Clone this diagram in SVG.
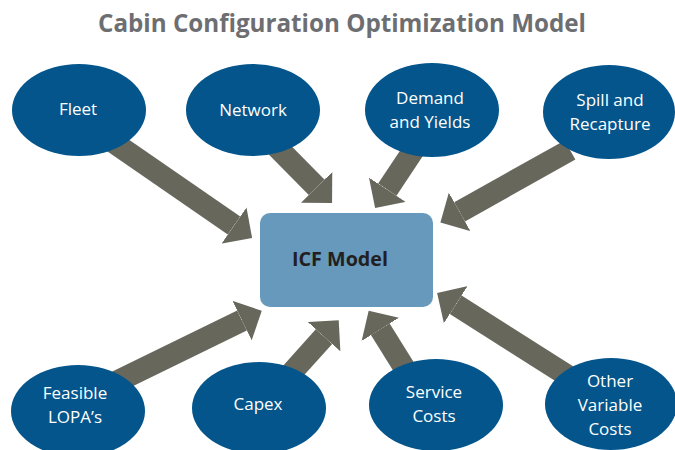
<svg xmlns="http://www.w3.org/2000/svg" width="675" height="450" viewBox="0 0 675 450">
<style>
.title{font-family:"Open Sans","Liberation Sans",Arial,sans-serif;font-weight:bold;font-size:25px;fill:#6d6e71;text-anchor:middle}
.node ellipse{fill:#03558b}
.lbl{font-family:"Open Sans","Liberation Sans",Arial,sans-serif;font-size:17px;fill:#ffffff;text-anchor:middle}
.arrow{stroke:#67675c;stroke-width:22;fill:none;marker-end:url(#head)}
.core{fill:#6699bb}
.corelbl{font-family:"Open Sans","Liberation Sans",Arial,sans-serif;font-weight:bold;font-size:20px;fill:#231f20;text-anchor:middle}
</style>
<defs>
<marker id="head" markerUnits="userSpaceOnUse" markerWidth="24" markerHeight="44" viewBox="0 0 24 44" refX="0" refY="22" orient="auto">
<path d="M0,0 L22,22 L0,44 z" fill="#67675c"/>
</marker>
</defs>
<rect width="675" height="450" fill="#ffffff"/>
<text class="title" x="342" y="32" textLength="488" lengthAdjust="spacingAndGlyphs">Cabin Configuration Optimization Model</text>
<g id="connectors">
<line class="arrow" x1="100" y1="133" x2="234" y2="225.5"/>
<line class="arrow" x1="265" y1="135" x2="316.6" y2="187.3"/>
<line class="arrow" x1="415" y1="148" x2="387.3" y2="189.7"/>
<line class="arrow" x1="570" y1="150" x2="459.6" y2="211.8"/>
<line class="arrow" x1="110" y1="385" x2="242" y2="320.5"/>
<line class="arrow" x1="285" y1="380" x2="324" y2="336.6"/>
<line class="arrow" x1="415" y1="385" x2="380.3" y2="329.3"/>
<line class="arrow" x1="590" y1="390" x2="455.7" y2="304.7"/>
</g>
<g id="icf">
<rect class="core" x="260" y="213" width="173" height="94" rx="10"/>
<text class="corelbl" x="340" y="266" textLength="96" lengthAdjust="spacingAndGlyphs">ICF Model</text>
</g>
<g id="fleet" class="node">
<ellipse cx="79" cy="110" rx="67" ry="46"/>
<text class="lbl" x="78" y="115">Fleet</text>
</g>
<g id="network" class="node">
<ellipse cx="253" cy="110" rx="67" ry="46"/>
<text class="lbl" x="253" y="116">Network</text>
</g>
<g id="demand" class="node">
<ellipse cx="432" cy="110" rx="67" ry="47"/>
<text class="lbl" x="430" y="104">Demand</text>
<text class="lbl" x="430" y="128">and Yields</text>
</g>
<g id="spill" class="node">
<ellipse cx="609" cy="112" rx="66" ry="47"/>
<text class="lbl" x="610" y="106">Spill and</text>
<text class="lbl" x="610" y="130">Recapture</text>
</g>
<g id="feasible" class="node">
<ellipse cx="78" cy="411" rx="67" ry="46"/>
<text class="lbl" x="75" y="399">Feasible</text>
<text class="lbl" x="75" y="423">LOPA’s</text>
</g>
<g id="capex" class="node">
<ellipse cx="259" cy="408" rx="67" ry="46"/>
<text class="lbl" x="258" y="410">Capex</text>
</g>
<g id="service" class="node">
<ellipse cx="436" cy="405" rx="67" ry="46"/>
<text class="lbl" x="434" y="398">Service</text>
<text class="lbl" x="434" y="422">Costs</text>
</g>
<g id="other" class="node">
<ellipse cx="611" cy="404" rx="66" ry="46"/>
<text class="lbl" x="610" y="387">Other</text>
<text class="lbl" x="610" y="411">Variable</text>
<text class="lbl" x="610" y="435">Costs</text>
</g>
</svg>
